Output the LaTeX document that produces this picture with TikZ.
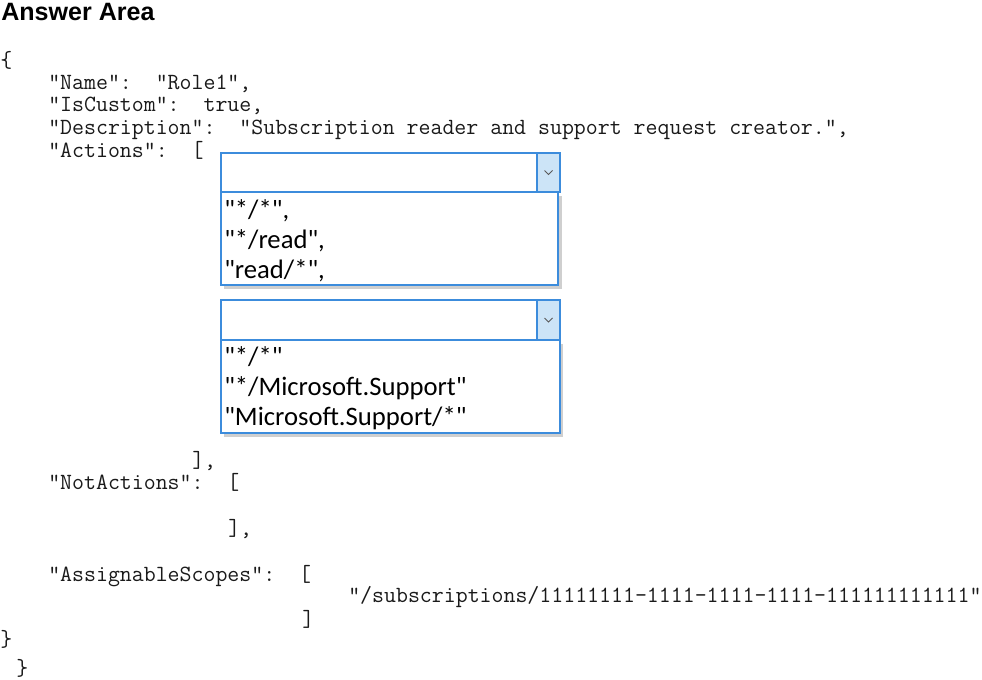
\documentclass[tikz,border=0pt]{standalone}
\usepackage{fontspec}
\newfontfamily\ddfont{Carlito}
\newfontfamily\titlefont{Liberation Sans}
\definecolor{ddblue}{HTML}{3C8CDC}
\definecolor{ddfill}{HTML}{CCE4F7}
\definecolor{shadowgray}{HTML}{A8A8A8}
\definecolor{codeink}{HTML}{1A1A1A}
\begin{document}
\begin{tikzpicture}[x=0.75pt,y=-0.75pt,
  code/.style={anchor=base west,inner sep=0pt,text=codeink,font=\fontsize{17.4}{18}\ttfamily},
  dditem/.style={anchor=base west,inner sep=0pt,font=\fontsize{20}{22}\ddfont},
  ddbox/.style={draw=ddblue,line width=1.1pt,fill=white},
  ddarrow/.style={draw=ddblue,line width=1.1pt,fill=ddfill}]
\useasboundingbox (0,0) rectangle (982,680);
\fill[white] (0,0) rectangle (982,680);
% title
\node[anchor=base west,inner sep=0pt,font=\fontsize{18.8}{20}\titlefont\bfseries] (title) at (1,21) {Answer Area};
% code lines
\node[code] (l0) at (0,68) {\{};
\node[code] (l1) at (48,90) {"Name":~~"Role1",};
\node[code] (l2) at (48,112) {"IsCustom":~~true,};
\node[code] (l3) at (48,135) {"Description":~~"Subscription reader and support request creator.",};
\node[code] (l4) at (48,158) {"Actions":~~[};
\node[code] (l5) at (192,468) {],};
\node[code] (l6) at (48,490) {"NotActions":~~[};
\node[code] (l7) at (228,536) {],};
\node[code] (l8) at (48,581) {"AssignableScopes":~~[};
\node[code] (l9) at (348,603) {"/subscriptions/11111111-1111-1111-1111-111111111111"};
\node[code] (l10) at (302,626) {]};
\node[code] (l11) at (0,647) {\}};
\node[code] (l12) at (16,675) {\}};
% dropdown 1
\fill[shadowgray,opacity=0.55] (224,196) rectangle (562,289);
\draw[ddbox] (221,192) rectangle (558,285);
\draw[ddbox] (221,153) rectangle (560,192);
\draw[ddarrow] (537,153) rectangle (560,192);
\draw[gray!70!black,line width=0.7pt] (544.5,170.5) -- (548.5,174.5) -- (552.5,170.5);
\node[dditem] (a1) at (224,219) {"*/*",};
\node[dditem] (a2) at (224,249) {"*/read",};
\node[dditem] (a3) at (224,279) {"read/*",};
% dropdown 2
\fill[shadowgray,opacity=0.55] (224,344) rectangle (563,437);
\draw[ddbox] (221,340) rectangle (560,433);
\draw[ddbox] (221,300) rectangle (560,340);
\draw[ddarrow] (537,300) rectangle (560,340);
\draw[gray!70!black,line width=0.7pt] (544.5,318) -- (548.5,322) -- (552.5,318);
\node[dditem] (b1) at (224,366) {"*/*"};
\node[dditem] (b2) at (224,396) {"*/Microsoft.Support"};
\node[dditem] (b3) at (224,426) {"Microsoft.Support/*"};
\end{tikzpicture}
\end{document}
